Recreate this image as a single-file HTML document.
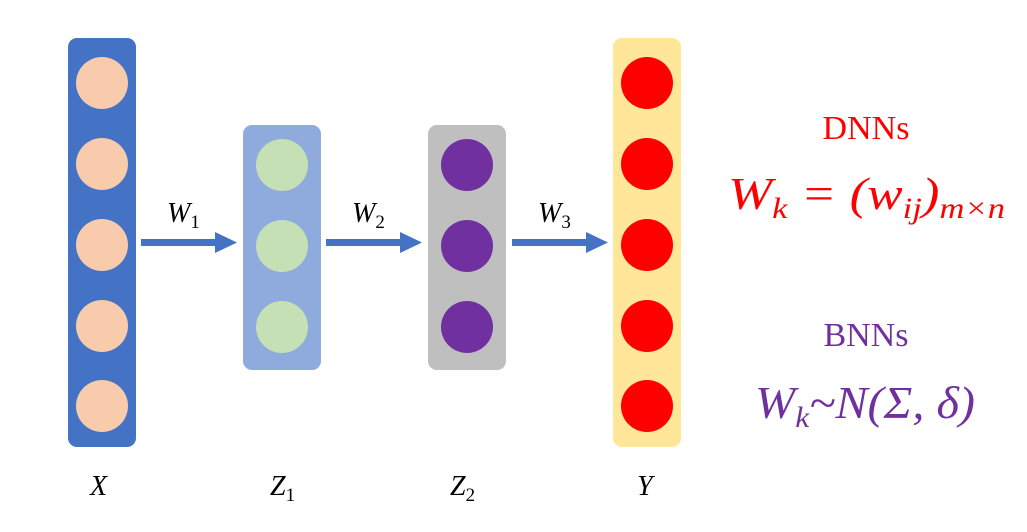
<!DOCTYPE html>
<html><head><meta charset="utf-8"><style>
body{margin:0;background:#fff;width:1027px;height:527px;overflow:hidden}
</style></head><body>
<svg width="1027" height="527" xmlns="http://www.w3.org/2000/svg" font-family="Liberation Serif, serif">
<rect x="68" y="38" width="68" height="409" rx="9" fill="#4472C4"/>
<g fill="#F8CBAD"><circle cx="102" cy="83" r="26"/><circle cx="102" cy="164" r="26"/><circle cx="102" cy="245" r="26"/><circle cx="102" cy="326" r="26"/><circle cx="102" cy="406" r="26"/></g>
<rect x="243" y="125" width="78" height="245" rx="9" fill="#8FAADC"/>
<g fill="#C5E0B4"><circle cx="282" cy="165" r="26"/><circle cx="282" cy="246" r="26"/><circle cx="282" cy="327" r="26"/></g>
<rect x="428" y="125" width="78" height="245" rx="9" fill="#BFBFBF"/>
<g fill="#7030A0"><circle cx="467" cy="165" r="26"/><circle cx="467" cy="246" r="26"/><circle cx="467" cy="327" r="26"/></g>
<rect x="613" y="38" width="68" height="409" rx="9" fill="#FFE699"/>
<g fill="#FF0000"><circle cx="647" cy="83" r="26"/><circle cx="647" cy="164" r="26"/><circle cx="647" cy="245" r="26"/><circle cx="647" cy="326" r="26"/><circle cx="647" cy="406" r="26"/></g>
<g fill="#4472C4">
<rect x="141" y="239" width="76" height="7"/><polygon points="215,232 237,242.5 215,253"/>
<rect x="326" y="239" width="76" height="7"/><polygon points="400,232 422,242.5 400,253"/>
<rect x="512" y="239" width="76" height="7"/><polygon points="586,232 608,242.5 586,253"/>
</g>
<g font-style="italic" font-size="28" fill="#000">
<text x="167" y="222">W<tspan font-size="19" font-style="normal" dy="6">1</tspan></text>
<text x="352" y="222">W<tspan font-size="19" font-style="normal" dy="6">2</tspan></text>
<text x="538" y="222">W<tspan font-size="19" font-style="normal" dy="6">3</tspan></text>
<text x="90" y="495">X</text>
<text x="270" y="495">Z<tspan font-size="19" font-style="normal" dy="6">1</tspan></text>
<text x="450" y="495">Z<tspan font-size="19" font-style="normal" dy="6">2</tspan></text>
<text x="637" y="495">Y</text>
</g>
<text x="866" y="139" font-size="34" text-anchor="middle" fill="#FF0000">DNNs</text>
<text x="728" y="209" font-size="46" font-style="italic" fill="#FF0000" textLength="277" lengthAdjust="spacingAndGlyphs">W<tspan font-size="30" dy="9">k</tspan><tspan dy="-9"> = (w</tspan><tspan font-size="30" dy="9">ij</tspan><tspan dy="-9">)</tspan><tspan font-size="30" dy="9">m×n</tspan></text>
<text x="866" y="346" font-size="34" text-anchor="middle" fill="#7030A0">BNNs</text>
<text x="755" y="418" font-size="46" font-style="italic" fill="#7030A0" textLength="220" lengthAdjust="spacingAndGlyphs">W<tspan font-size="30" dy="9">k</tspan><tspan dy="-9">~N(Σ, δ)</tspan></text>
</svg>
</body></html>
